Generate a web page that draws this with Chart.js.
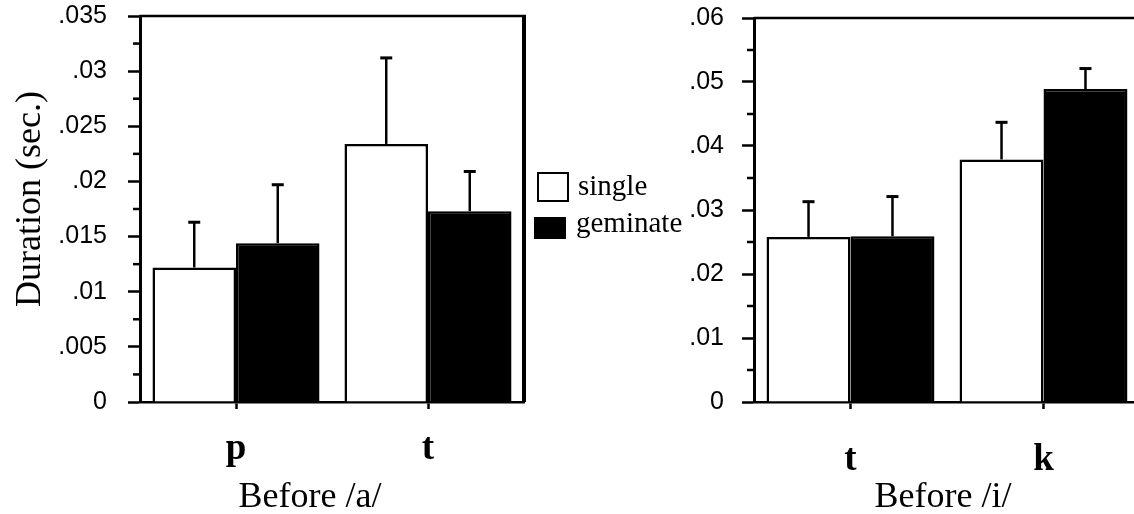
<!DOCTYPE html>
<html>
<head>
<meta charset="utf-8">
<script src="https://cdn.jsdelivr.net/npm/chart.js@4.4.0/dist/chart.umd.min.js"></script>
<style>
  html, body { margin: 0; padding: 0; background: #fff; overflow: hidden; }
  #wrap { position: relative; width: 1134px; height: 514px; overflow: hidden; }
  canvas { position: absolute; top: 0; }
  .txt { position: absolute; font-family: "Liberation Serif", "Times New Roman", serif; color: #000; white-space: nowrap; }
  .box { position: absolute; box-sizing: border-box; border: 2.5px solid #000; }
</style>
</head>
<body>
<div id="wrap">
  <canvas id="leftChart" width="540" height="514" style="left:0"></canvas>
  <canvas id="rightChart" width="600" height="514" style="left:590px"></canvas>

  <div class="txt" style="left:-102px;top:177px;width:260px;height:44px;line-height:44px;font-size:36px;text-align:center;transform:rotate(-90deg)">Duration (sec.)</div>
  <div class="txt" style="left:160px;top:475px;width:300px;line-height:40px;font-size:36px;text-align:center">Before /a/</div>
  <div class="txt" style="left:793px;top:475px;width:300px;line-height:40px;font-size:36px;text-align:center">Before /i/</div>

  <div class="box" style="left:537px;top:172px;width:32px;height:30px;background:#fff"></div>
  <div class="box" style="left:534px;top:217px;width:32px;height:22px;background:#000"></div>
  <div class="txt" style="left:578px;top:168px;line-height:34px;font-size:29px">single</div>
  <div class="txt" style="left:576px;top:205px;line-height:34px;font-size:29px">geminate</div>
</div>

<script>
// left panel: before /a/
const leftCategories = ['p', 't'];
const leftSingle = [0.0122, 0.0234];
const leftSingleErr = [0.0041, 0.0078];
const leftGeminate = [0.0144, 0.0173];
const leftGeminateErr = [0.0053, 0.0036];
const leftTicks = [0, 0.005, 0.01, 0.015, 0.02, 0.025, 0.03, 0.035];
const leftMinor = [0.0025, 0.0075, 0.0125, 0.0175, 0.0225, 0.0275, 0.0325];

// right panel: before /i/
const rightCategories = ['t', 'k'];
const rightSingle = [0.0258, 0.0379];
const rightSingleErr = [0.0055, 0.0058];
const rightGeminate = [0.0259, 0.0489];
const rightGeminateErr = [0.0062, 0.0032];
const rightTicks = [0, 0.01, 0.02, 0.03, 0.04, 0.05, 0.06];
const rightMinor = [0.005, 0.015, 0.025, 0.035, 0.045, 0.055];

// drop the leading zero like the original: .035
function fmt(v) {
  if (v === 0) return '0';
  return String(+v.toFixed(4)).replace(/^0/, '');
}

const errorBars = {
  id: 'errorBars',
  afterDatasetsDraw(chart) {
    const ctx = chart.ctx;
    const y = chart.scales.y;
    chart.data.datasets.forEach((ds, i) => {
      chart.getDatasetMeta(i).data.forEach((bar, j) => {
        const top = y.getPixelForValue(ds.data[j] + ds.errors[j]);
        ctx.save();
        ctx.strokeStyle = '#000';
        ctx.lineWidth = 2.5;
        ctx.beginPath();
        ctx.moveTo(bar.x, bar.y);
        ctx.lineTo(bar.x, top);
        ctx.stroke();
        ctx.lineWidth = 3;
        ctx.beginPath();
        ctx.moveTo(bar.x - 6, top);
        ctx.lineTo(bar.x + 6, top);
        ctx.stroke();
        ctx.restore();
      });
    });
  }
};

const frame = {
  id: 'frame',
  afterDraw(chart, args, opts) {
    const { left, right, top, bottom } = chart.chartArea;
    const ctx = chart.ctx;
    ctx.save();
    ctx.strokeStyle = '#000';
    ctx.lineWidth = 2.5;
    ctx.beginPath();
    ctx.moveTo(left, top);
    ctx.lineTo(right + (opts.rightSide ? 2 : 0), top);
    ctx.stroke();
    if (opts.rightSide) {
      ctx.lineWidth = 4;
      ctx.beginPath();
      ctx.moveTo(right, top);
      ctx.lineTo(right, bottom);
      ctx.stroke();
    }
    // minor ticks on the y axis
    const y = chart.scales.y;
    ctx.lineWidth = 2.5;
    opts.minor.forEach(v => {
      const py = y.getPixelForValue(v);
      ctx.beginPath();
      ctx.moveTo(left - 7, py);
      ctx.lineTo(left, py);
      ctx.stroke();
    });
    ctx.restore();
  }
};

function makeConfig(cats, single, singleErr, gem, gemErr, ticks, minor, o) {
  return {
    type: 'bar',
    data: {
      labels: cats,
      datasets: [{
        label: 'single',
        data: single,
        errors: singleErr,
        backgroundColor: '#fff',
        borderColor: '#000',
        borderWidth: 2.5,
        barPercentage: 1,
        categoryPercentage: 0.87
      }, {
        label: 'geminate',
        data: gem,
        errors: gemErr,
        backgroundColor: '#000',
        borderColor: '#000',
        borderWidth: 2.5,
        barPercentage: 1,
        categoryPercentage: 0.87
      }]
    },
    options: {
      responsive: false,
      animation: false,
      layout: { padding: { top: o.top, right: o.right, left: 0, bottom: 0 } },
      plugins: {
        legend: { display: false },
        tooltip: { enabled: false },
        frame: { rightSide: o.rightSide, minor: minor }
      },
      scales: {
        x: {
          grid: { offset: false, drawOnChartArea: false, tickLength: 7, tickWidth: 2.5, tickColor: '#000' },
          border: { display: true, color: '#000', width: 2.5 },
          ticks: {
            color: '#000',
            padding: o.xPad,
            font: { family: 'Liberation Serif', size: 37, weight: 'bold' }
          },
          afterFit(s) {
            s.height = 514 - 402;
            s.paddingLeft = 0;
            s.paddingRight = 0;
          }
        },
        y: {
          min: 0,
          max: ticks[ticks.length - 1],
          afterBuildTicks(s) { s.ticks = ticks.map(v => ({ value: v })); },
          grid: { drawOnChartArea: false, tickLength: 12, tickWidth: 2.5, tickColor: '#000' },
          border: { display: true, color: '#000', width: 3 },
          ticks: {
            color: '#000',
            padding: o.yPad,
            font: { family: 'Liberation Sans', size: 25 },
            callback: v => fmt(v)
          },
          afterFit(s) {
            s.width = o.yWidth;
            s.paddingTop = 0;
            s.paddingBottom = 0;
          }
        }
      }
    },
    plugins: [errorBars, frame]
  };
}

new Chart(document.getElementById('leftChart'),
  makeConfig(leftCategories, leftSingle, leftSingleErr, leftGeminate, leftGeminateErr, leftTicks, leftMinor,
    { top: 16, right: 16, rightSide: true, yWidth: 140, yPad: 21, xPad: 18 }));

new Chart(document.getElementById('rightChart'),
  makeConfig(rightCategories, rightSingle, rightSingleErr, rightGeminate, rightGeminateErr, rightTicks, rightMinor,
    { top: 18, right: 50, rightSide: false, yWidth: 164, yPad: 18, xPad: 29 }));
</script>
</body>
</html>
